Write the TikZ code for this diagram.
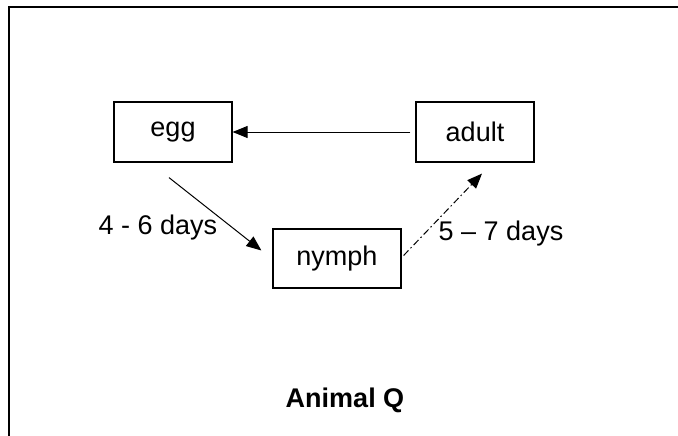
\documentclass[tikz,border=0pt]{standalone}
\usepackage{fontspec}
\setmainfont{Liberation Sans}
\usetikzlibrary{arrows.meta}
\begin{document}
\begin{tikzpicture}[x=1pt,y=-1pt,
  stagebox/.style={draw, line width=1.2pt, minimum width=118pt, minimum height=60pt, inner sep=0pt, font=\fontsize{27}{32}\selectfont},
  lbl/.style={inner sep=0pt, font=\fontsize{27}{32}\selectfont},
  conn/.style={line width=1pt, -{Triangle[length=15pt,width=12pt]}}]
\useasboundingbox (0,0) rectangle (678,436);
\draw[line width=2pt] (9,436) -- (9,7) -- (678,7);
\node[stagebox] (egg) at (173,132) {egg};
\node[stagebox] (adult) at (475,132) {adult};
\node[stagebox, minimum width=128pt, minimum height=59pt] (nymph) at (337,258.5) {nymph};
\draw[conn] ([xshift=-5pt]adult.west) -- (egg.east);
\draw[conn] ([shift={(-4,15)}]egg.south) -- ([shift={(-11,-8)}]nymph.west);
\draw[conn, dash pattern=on 7pt off 3pt on 1.5pt off 3pt] ([shift={(2,-3)}]nymph.east) -- ([shift={(7,11)}]adult.south);
\node[lbl] (l1) at (158,228) {4 - 6 days};
\node[lbl] (l2) at (501,234) {5 -- 7 days};
\node[lbl, font=\fontsize{27}{32}\selectfont\bfseries] (title) at (345,400) {Animal Q};
\end{tikzpicture}
\end{document}
